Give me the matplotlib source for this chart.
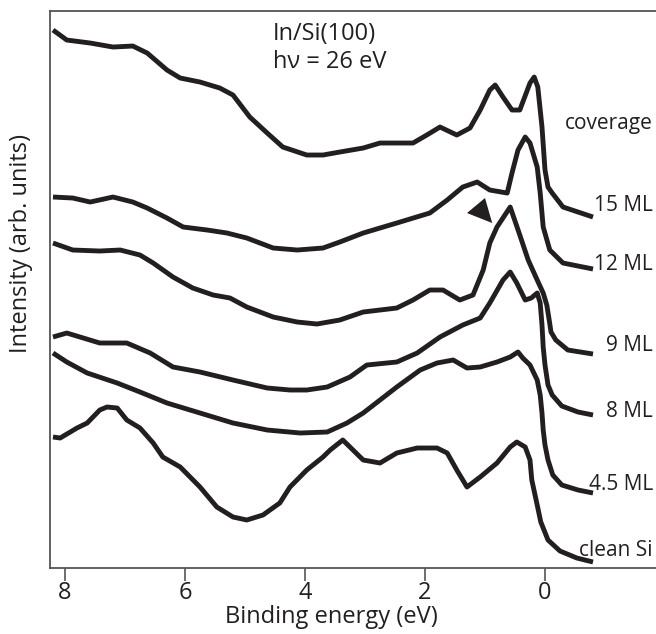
import matplotlib.pyplot as plt
from matplotlib.patches import Polygon

plt.rcParams['font.family'] = ['Open Sans', 'DejaVu Sans']

INK = '#231f20'

# binding energy (eV) / intensity (arb. units, offset spectra)
e_15 = [8.20, 7.97, 7.58, 7.20, 6.87, 6.63, 6.30, 6.08, 5.75, 5.42, 5.20, 4.92, 4.63, 4.37,
        3.97, 3.70, 3.42, 3.03, 2.75, 2.20, 1.97, 1.75, 1.47, 1.25, 1.08, 0.92, 0.83, 0.70,
        0.55, 0.42, 0.25, 0.18, 0.12, 0.05, 0.00, -0.05, -0.12, -0.30, -0.80]
i_15 = [53.8, 52.8, 52.5, 52.1, 52.2, 51.5, 49.8, 49.0, 48.6, 48.0, 47.3, 45.1, 43.5, 42.1,
        41.3, 41.3, 41.6, 42.0, 42.5, 42.5, 43.3, 44.1, 43.3, 44.0, 45.8, 47.8, 48.3, 47.1,
        45.8, 45.8, 48.5, 49.1, 48.1, 44.1, 39.8, 38.1, 37.5, 36.1, 35.1]

e_12 = [8.20, 7.87, 7.58, 7.20, 6.87, 6.63, 6.30, 6.03, 5.63, 5.30, 4.97, 4.53, 4.13, 3.70,
        3.42, 3.03, 2.47, 1.92, 1.63, 1.37, 1.13, 0.92, 0.63, 0.55, 0.45, 0.33, 0.25, 0.13,
        0.08, 0.03, -0.08, -0.30, -0.80]
i_12 = [37.1, 37.0, 36.6, 37.1, 36.6, 36.0, 35.0, 34.1, 33.8, 33.5, 33.0, 32.0, 31.8, 32.0,
        32.6, 33.5, 34.5, 35.5, 36.8, 38.1, 38.6, 37.8, 37.5, 39.5, 41.8, 43.1, 42.5, 40.1,
        37.5, 34.1, 31.8, 30.5, 29.9]

e_9 = [8.20, 7.87, 7.42, 7.08, 6.75, 6.53, 6.20, 5.87, 5.53, 5.25, 4.97, 4.53, 4.13, 3.80,
       3.42, 3.03, 2.47, 2.20, 1.92, 1.70, 1.42, 1.20, 1.03, 0.92, 0.80, 0.58, 0.42, 0.28,
       0.13, 0.03, -0.03, -0.07, -0.10, -0.18, -0.38, -0.80]
i_9 = [32.5, 31.8, 31.7, 31.8, 31.3, 30.5, 29.1, 28.0, 27.3, 27.0, 26.1, 25.1, 24.6, 24.4,
       24.8, 25.6, 26.0, 26.8, 27.8, 27.8, 26.8, 27.3, 29.8, 32.5, 34.1, 36.1, 33.3, 30.8,
       28.8, 27.5, 26.3, 24.8, 23.6, 22.8, 21.8, 21.4]

e_8 = [8.20, 7.97, 7.42, 6.97, 6.58, 6.20, 5.75, 5.20, 4.63, 4.25, 3.97, 3.63, 3.25, 2.97,
       2.47, 2.13, 1.75, 1.37, 1.08, 0.92, 0.70, 0.58, 0.47, 0.33, 0.23, 0.13, 0.08, 0.05,
       0.03, 0.00, -0.05, -0.12, -0.28, -0.55, -0.80]
i_8 = [23.1, 23.5, 22.5, 22.5, 21.5, 20.1, 19.6, 18.8, 18.0, 17.8, 17.8, 18.1, 19.1, 20.3,
       20.6, 21.5, 23.1, 24.3, 25.0, 26.5, 28.8, 29.6, 28.5, 26.8, 27.0, 27.5, 26.5, 24.3,
       22.1, 20.3, 18.3, 17.3, 16.2, 15.6, 15.3]

e_45 = [8.20, 7.97, 7.63, 7.13, 6.75, 6.30, 5.75, 5.20, 4.63, 4.08, 3.63, 3.30, 3.03, 2.75,
        2.47, 2.08, 1.80, 1.53, 1.30, 1.08, 0.80, 0.58, 0.45, 0.37, 0.25, 0.13, 0.08, 0.05,
        0.03, 0.00, -0.05, -0.13, -0.28, -0.55, -0.80]
i_45 = [21.5, 20.6, 19.5, 18.5, 17.6, 16.5, 15.5, 14.5, 13.8, 13.5, 13.6, 14.5, 15.5, 16.8,
        18.1, 19.8, 20.5, 20.8, 20.0, 20.1, 20.6, 21.1, 21.6, 21.0, 20.3, 18.8, 17.3, 15.5,
        13.8, 12.3, 10.8, 9.3, 8.3, 7.8, 7.5]

e_si = [8.20, 8.08, 7.80, 7.63, 7.42, 7.30, 7.13, 6.97, 6.75, 6.53, 6.37, 6.08, 5.75, 5.47,
        5.20, 4.97, 4.70, 4.42, 4.25, 3.97, 3.70, 3.58, 3.37, 3.20, 3.03, 2.75, 2.47, 2.13,
        1.80, 1.63, 1.47, 1.30, 1.08, 0.80, 0.58, 0.47, 0.33, 0.25, 0.22, 0.13, 0.07, -0.05,
        -0.25, -0.53, -0.80]
i_si = [13.1, 13.0, 14.0, 14.5, 15.8, 16.1, 16.0, 14.8, 14.0, 12.5, 11.1, 10.1, 8.1, 6.1,
        5.1, 4.8, 5.3, 6.5, 8.1, 9.8, 11.1, 11.8, 12.8, 11.8, 10.8, 10.5, 11.5, 12.0,
        12.0, 11.5, 9.8, 8.1, 9.1, 10.5, 12.1, 12.6, 12.1, 10.8, 8.8, 6.3, 4.6, 2.8,
        1.7, 1.0, 0.6]

spectra = [(e_15, i_15), (e_12, i_12), (e_9, i_9), (e_8, i_8), (e_45, i_45), (e_si, i_si)]

# right-hand labels: text and the height they sit at
label_text = ['coverage', '15 ML', '12 ML', '9 ML', '8 ML', '4.5 ML', 'clean Si']
label_y = [44.5, 36.3, 30.4, 22.3, 15.7, 8.4, 1.8]
label_x = -1.80

# arrowhead marker pointing at the 9 ML peak
arrow_e = [1.30, 1.00, 0.88]
arrow_i = [35.5, 37.0, 34.5]

fig = plt.figure(figsize=(6.56, 6.34), dpi=100)
ax = fig.add_axes([0.0762, 0.1041, 0.9238, 0.8785])

for e, inten in spectra:
    ax.plot(e, inten, color=INK, lw=3.5, solid_joinstyle='round', solid_capstyle='butt')

ax.add_patch(Polygon(list(zip(arrow_e, arrow_i)), closed=True, color=INK, lw=0))

for txt, y in zip(label_text, label_y):
    ax.text(label_x, y, txt, ha='right', va='center', fontsize=15, color=INK)

ax.text(4.53, 53.4, 'In/Si(100)', ha='left', va='center', fontsize=17, color=INK)
ax.text(4.53, 50.6, 'h\u03bd = 26 eV', ha='left', va='center', fontsize=17, color=INK)

ax.set_xlim(8.25, -1.85)
ax.set_ylim(0, 55.7)
ax.set_xticks([8, 6, 4, 2, 0])
ax.set_yticks([])
ax.tick_params(axis='x', direction='out', length=9, width=1.2, color='#555555',
               labelsize=17, labelcolor=INK, pad=0)
ax.spines['right'].set_visible(False)
for side in ['left', 'top', 'bottom']:
    ax.spines[side].set_color('#555555')
    ax.spines[side].set_linewidth(1.3)

ax.set_xlabel('Binding energy (eV)', fontsize=17, color=INK)
ax.set_ylabel('Intensity (arb. units)', fontsize=17, color=INK)
ax.xaxis.set_label_coords(0.464, -0.066)
ax.yaxis.set_label_coords(-0.028, 0.583)

fig.savefig('out.png', dpi=100)
